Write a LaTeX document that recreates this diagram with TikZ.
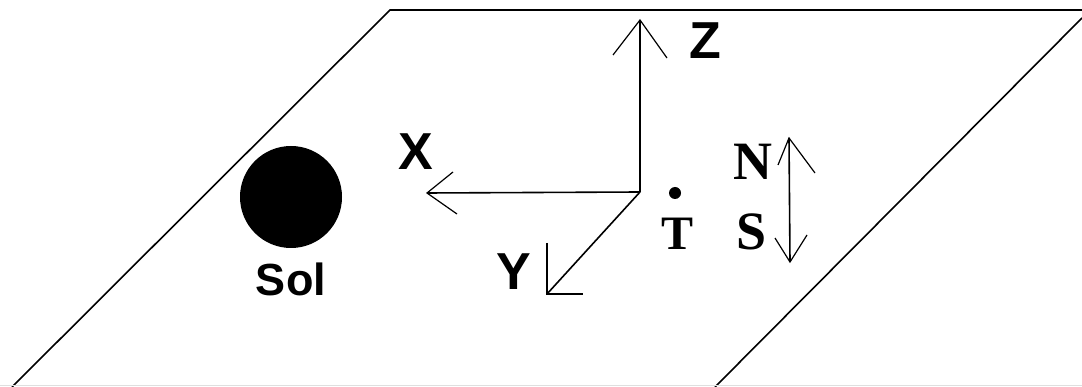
\documentclass[tikz,border=0pt]{standalone}
\usepackage{fontspec}
\usetikzlibrary{calc}
\setmainfont{Liberation Sans}
\newfontfamily\serifbold{Liberation Serif}
\begin{document}
\begin{tikzpicture}[x=1pt,y=-1pt,
  ln/.style={line width=1.6pt,black},
  thin ln/.style={line width=1.2pt,black},
  sanslbl/.style={inner sep=0pt,font=\fontsize{52}{52}\selectfont\bfseries},
  sollbl/.style={inner sep=0pt,font=\fontsize{45}{45}\selectfont\bfseries},
  seriflbl/.style={inner sep=0pt,font=\fontsize{54}{54}\selectfont\serifbold\bfseries}]
\useasboundingbox (0,0) rectangle (1082,387);
% plane
\coordinate (tl) at (390,10);
\coordinate (tr) at (1082,10);
\coordinate (rtop) at (1082,18);
\coordinate (rbot) at (715,387);
\coordinate (lbot) at (12,387);
\draw[ln] (lbot) -- (tl) -- (tr);
\draw[ln] (rtop) -- (rbot);
\draw[line width=1pt,gray!25] (0,385.5) -- (1082,385.5);
% sun
\fill[black] (291,197) circle (51);
\node[sollbl] (sol) at (291,279) {Sol};
% axes
\coordinate (o) at (640,192);
\coordinate (zt) at (640,20);
\coordinate (xt) at (427,193);
\coordinate (yt) at (547,294);
\draw[ln] (o) -- (zt);
\draw[thin ln] ($(zt)+(-27,35)$) -- (zt) -- ($(zt)+(27,38)$);
\draw[ln] (o) -- (xt);
\draw[thin ln] (453,172) -- (xt) -- (457,214);
\draw[ln] (o) -- (yt);
\draw[thin ln] (547,243) -- (yt) -- (583,294);
\node[sanslbl] (X) at (416,152) {X};
\node[sanslbl] (Z) at (705,41) {Z};
\node[sanslbl] (Y) at (514,272) {Y};
% Earth
\fill[black] (675,193) circle (6);
\node[seriflbl,font=\fontsize{48}{48}\selectfont\serifbold\bfseries] (T) at (678,234) {T};
% N-S
\coordinate (nt) at (789,138);
\coordinate (st) at (790,262);
\draw[ln] (nt) -- (st);
\draw[thin ln] (778,165) -- (nt) -- (815,173);
\draw[thin ln] (775,238) -- (st) -- (807,235);
\node[seriflbl] (N) at (753,162) {N};
\node[seriflbl] (S) at (752,232) {S};
\end{tikzpicture}
\end{document}
